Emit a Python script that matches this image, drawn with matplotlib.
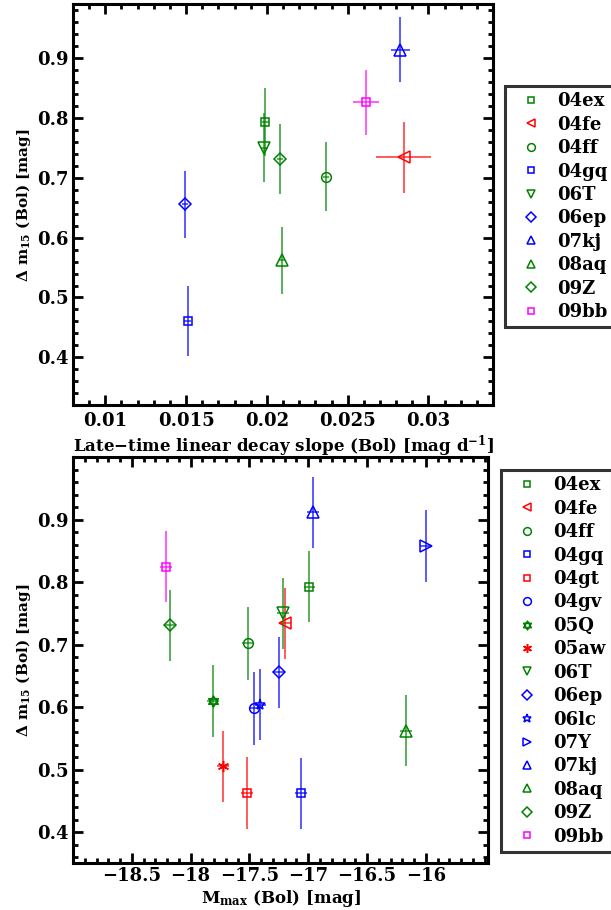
import matplotlib
matplotlib.use("Agg")
import matplotlib.pyplot as plt
from matplotlib.font_manager import FontProperties
from matplotlib.path import Path
from matplotlib.ticker import MultipleLocator

plt.rcParams['font.family'] = ['DejaVu Serif']
plt.rcParams['font.weight'] = 'bold'
plt.rcParams['mathtext.fontset'] = 'dejavuserif'
plt.rcParams['mathtext.default'] = 'bf'

# star of david: two overlaid triangles
star6 = Path([(0, 1), (0.866, -0.5), (-0.866, -0.5), (0, 1),
              (0, -1), (0.866, 0.5), (-0.866, 0.5), (0, -1)],
             [Path.MOVETO, Path.LINETO, Path.LINETO, Path.CLOSEPOLY,
              Path.MOVETO, Path.LINETO, Path.LINETO, Path.CLOSEPOLY])

GREEN, RED, BLUE, MAG = '#008200', '#ff0000', '#0000ff', '#ff00ff'

style = {
    '04ex': ('s', GREEN), '04fe': ('<', RED), '04ff': ('o', GREEN),
    '04gq': ('s', BLUE), '04gt': ('s', RED), '04gv': ('o', BLUE),
    '05Q': (star6, GREEN), '05aw': ((6, 2, 0), RED), '06T': ('v', GREEN),
    '06ep': ('D', BLUE), '06lc': ('*', BLUE), '07Y': ('>', BLUE),
    '07kj': ('^', BLUE), '08aq': ('^', GREEN), '09Z': ('D', GREEN),
    '09bb': ('s', MAG),
}
msize = {'s': 6, 'o': 7, 'D': 6, '^': 8, 'v': 8, '<': 8, '>': 8, '*': 8}

# top panel: late-time decay slope vs dm15
top_names = ['04ex', '04fe', '04ff', '04gq', '06T', '06ep', '07kj', '08aq', '09Z', '09bb']
top_slope = [0.0199, 0.02847, 0.02367, 0.0151, 0.01984, 0.01494, 0.02826, 0.02094, 0.02082, 0.02611]
top_slope_err = [0.0002, 0.0017, 0.0002, 0.0002, 0.0002, 0.0002, 0.0006, 0.0002, 0.0002, 0.0008]
top_dm15 = [0.793, 0.734, 0.702, 0.461, 0.750, 0.656, 0.914, 0.562, 0.731, 0.826]
top_dm15_err = [0.057, 0.059, 0.058, 0.058, 0.058, 0.056, 0.054, 0.056, 0.058, 0.054]

# bottom panel: Mmax vs dm15
bot_names = ['04ex', '04fe', '04ff', '04gq', '04gt', '04gv', '05Q', '05aw',
             '06T', '06ep', '06lc', '07Y', '07kj', '08aq', '09Z', '09bb']
bot_mmax = [-16.99, -17.196, -17.514, -17.06, -17.52, -17.457, -17.81, -17.724,
            -17.213, -17.25, -17.406, -16.003, -16.96, -16.17, -18.176, -18.21]
bot_mmax_err = [0.05] * 16
bot_dm15 = [0.793, 0.734, 0.702, 0.462, 0.4625, 0.598, 0.610, 0.505,
            0.750, 0.656, 0.604, 0.858, 0.912, 0.562, 0.731, 0.825]
bot_dm15_err = [0.057, 0.057, 0.058, 0.057, 0.057, 0.058, 0.057, 0.057,
                0.057, 0.057, 0.057, 0.057, 0.057, 0.057, 0.057, 0.057]

tickfont = FontProperties(family='DejaVu Serif', weight='bold', size=13)
legfont = FontProperties(family='DejaVu Serif', weight='bold', size=13)

fig = plt.figure(figsize=(6.11, 9.10), dpi=100)
ax1 = fig.add_axes([0.1195, 0.5546, 0.6875, 0.441])
ax2 = fig.add_axes([0.1195, 0.0513, 0.6795, 0.4462])


def draw(ax, names, x, xe, y, ye):
    handles = []
    for n, xi, xei, yi, yei in zip(names, x, xe, y, ye):
        m, c = style[n]
        ms = msize.get(m, 7) if isinstance(m, str) else 8
        ax.errorbar(xi, yi, xerr=xei, yerr=yei, fmt='none', ecolor=c,
                    elinewidth=1.2, alpha=0.75, capsize=0)
        h, = ax.plot(xi, yi, linestyle='none', marker=m, ms=ms, mfc='none',
                     mec=c, mew=1.1, label=n)
        handles.append(h)
    return handles


def style_axes(ax, xt, xl, yt, yl, xpad):
    ax.set_xticks(xt)
    ax.set_xticklabels(xl, fontproperties=tickfont)
    ax.set_yticks(yt)
    ax.set_yticklabels(yl, fontproperties=tickfont)
    for s in ax.spines.values():
        s.set_linewidth(2.2)
    ax.tick_params(which='both', direction='in', top=True, right=True)
    ax.tick_params(axis='x', which='both', pad=xpad)
    ax.tick_params(axis='y', which='both', pad=3)
    ax.tick_params(which='major', length=7, width=2)
    ax.tick_params(which='minor', length=3.5, width=2)


yt = [0.4, 0.5, 0.6, 0.7, 0.8, 0.9]
yl = ['0.4', '0.5', '0.6', '0.7', '0.8', '0.9']

h1 = draw(ax1, top_names, top_slope, top_slope_err, top_dm15, top_dm15_err)
ax1.set_xlim(0.008, 0.034)
ax1.set_ylim(0.32, 0.99)
ax1.xaxis.set_minor_locator(MultipleLocator(0.001))
ax1.yaxis.set_minor_locator(MultipleLocator(0.02))
style_axes(ax1, [0.01, 0.015, 0.02, 0.025, 0.03],
           ['0.01', '0.015', '0.02', '0.025', '0.03'], yt, yl, 5)
ax1.set_xlabel(r'Late$-$time linear decay slope (Bol) [mag d$^{-1}$]',
               fontsize=12, fontweight='bold', va='top')
ax1.xaxis.set_label_coords(0.5, -0.068)
ax1.set_ylabel(r'$\Delta$ m$_{15}$ (Bol) [mag]', fontsize=11,
               fontweight='bold')
ax1.yaxis.set_label_coords(-0.095, 0.5)

h2 = draw(ax2, bot_names, bot_mmax, bot_mmax_err, bot_dm15, bot_dm15_err)
ax2.set_xlim(-19.0, -15.47)
ax2.set_ylim(0.35, 1.0)
ax2.xaxis.set_minor_locator(MultipleLocator(0.1))
ax2.yaxis.set_minor_locator(MultipleLocator(0.02))
style_axes(ax2, [-18.5, -18, -17.5, -17, -16.5, -16],
           ['\u221218.5', '\u221218', '\u221217.5', '\u221217', '\u221216.5', '\u221216'],
           yt, yl, 3)
ax2.set_xlabel(r'M$_{max}$ (Bol) [mag]', fontsize=12, fontweight='bold',
               va='top')
ax2.xaxis.set_label_coords(0.5, -0.06)
ax2.set_ylabel(r'$\Delta$ m$_{15}$ (Bol) [mag]', fontsize=11,
               fontweight='bold')
ax2.yaxis.set_label_coords(-0.096, 0.5)

for hs, anchor in ((h1, (0.8265, 0.9055)), (h2, (0.8195, 0.4835))):
    leg = fig.legend(handles=hs, loc='upper left', bbox_to_anchor=anchor,
                     frameon=True, fancybox=False, edgecolor='black',
                     markerscale=0.8, handlelength=2.2,
                     handletextpad=0.35, labelspacing=0.3, borderpad=0.35,
                     borderaxespad=0, prop=legfont)
    leg.get_frame().set_linewidth(2.2)

fig.savefig('out.png', dpi=100)
